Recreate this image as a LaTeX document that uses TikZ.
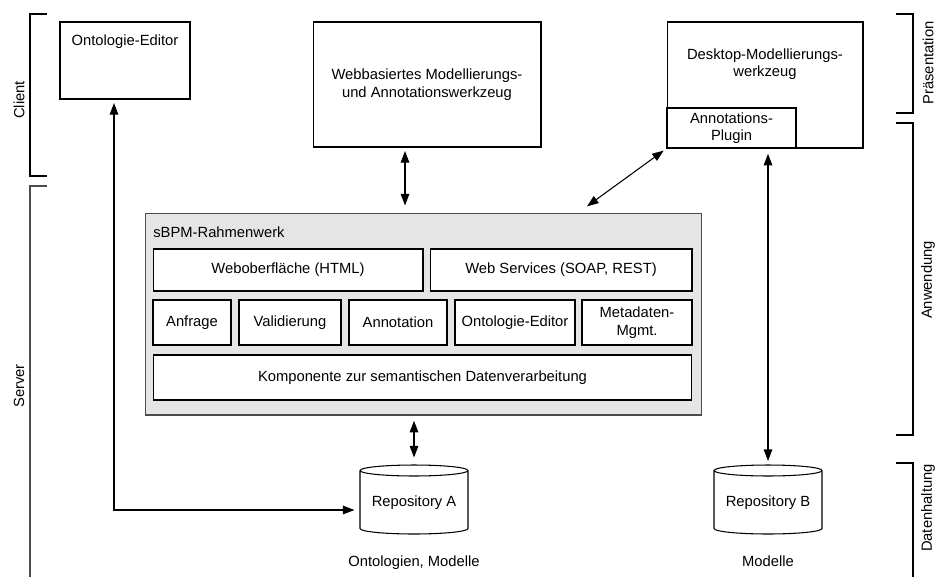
\documentclass[tikz,border=0pt]{standalone}
\usepackage{fontspec}
\setmainfont{Liberation Sans}
\usepackage{tikz}
\usetikzlibrary{arrows.meta,shapes.geometric}
\tikzset{
    box/.style={draw, fill=white, line width=0.6pt, align=center, inner sep=0pt},
    txt/.style={align=center, inner sep=0pt},
    repo/.style={draw, fill=white, line width=0.6pt, cylinder, shape border rotate=90, aspect=0.13, minimum width=2.16cm, minimum height=1.38cm, inner sep=0pt},
    dbl/.style={{Triangle[length=0.23cm,width=0.17cm]}-{Triangle[length=0.23cm,width=0.17cm]}, line width=0.6pt},
    brace/.style={line width=0.6pt},
    every node/.style={font=\fontsize{8.4}{10}\selectfont}
}

\begin{document}
\begin{tikzpicture}[x=0.02cm, y=-0.02cm]
\useasboundingbox (0,0) rectangle (935,576);
\draw[brace] (47,14) -- (30,14) -- (30,176) -- (47,176);
\draw[brace, black!70] (47,186) -- (30,186) -- (30,580);
\draw[brace] (896,14) -- (913,14) -- (913,113) -- (896,113);
\draw[brace] (896,123) -- (913,123) -- (913,435) -- (896,435);
\draw[brace] (896,463) -- (913,463) -- (913,580);
\node[txt, rotate=90] (client) at (19,100) {Client};
\node[txt, rotate=90] (server) at (19,386) {Server};
\node[txt, rotate=90] (praes) at (928,63) {Präsentation};
\node[txt, rotate=90] (anw) at (928,280) {Anwendung};
\node[txt, rotate=90] (daten) at (928,508) {Datenhaltung};

\node[box, minimum width=2.6cm, minimum height=1.54cm] (oeditor) at (125,60.5) {};
\node[txt] (oeditorlbl) at (125,42) {Ontologie-Editor};
\node[box, minimum width=4.56cm, minimum height=2.5cm] (web) at (427,84.5) {Webbasiertes Modellierungs-\\und Annotationswerkzeug};
\node[box, minimum width=3.92cm, minimum height=2.52cm] (desktop) at (765,85) {};
\node[txt] (desktoplbl) at (765,64) {Desktop-Modellierungs-\\werkzeug};
\node[box, minimum width=2.58cm, minimum height=0.8cm] (plugin) at (731.5,128) {Annotations-\\Plugin};

\node[draw=black!70, fill=black!10, line width=0.6pt, minimum width=11.14cm, minimum height=4.04cm, inner sep=0pt] (frame) at (423.5,314) {};
\node[txt, anchor=west] (framelbl) at (153,232) {sBPM-Rahmenwerk};
\node[box, minimum width=5.4cm, minimum height=0.84cm] (gui) at (288,270) {Weboberfläche (HTML)};
\node[box, minimum width=5.24cm, minimum height=0.84cm] (ws) at (561,270) {Web Services (SOAP, REST)};
\node[box, minimum width=1.56cm, minimum height=0.9cm] (anfrage) at (192,322.5) {Anfrage};
\node[box, minimum width=2.04cm, minimum height=0.9cm] (valid) at (290,322.5) {Validierung};
\node[box, minimum width=1.96cm, minimum height=0.9cm] (annot) at (398,322.5) {Annotation};
\node[box, minimum width=2.4cm, minimum height=0.9cm] (onto) at (515,322.5) {Ontologie-Editor};
\node[box, minimum width=2.2cm, minimum height=0.9cm] (meta) at (637,322.5) {Metadaten-\\Mgmt.};
\node[box, minimum width=10.78cm, minimum height=0.9cm] (komp) at (422.5,377.5) {Komponente zur semantischen Datenverarbeitung};

\node[repo] (repA) at (414,502.5) {Repository A};
\node[txt] (repAlbl) at (414,563) {Ontologien, Modelle};
\node[repo] (repB) at (768,502.5) {Repository B};
\node[txt] (repBlbl) at (768,561) {Modelle};

\draw[dbl, shorten <=2pt] ([xshift=-0.22cm]oeditor.south) |- ([xshift=-0.1cm, yshift=-0.15cm]repA.west);
\draw[dbl, shorten <=2pt, shorten >=4pt] ([xshift=-0.44cm]web.south) -- ([xshift=-0.44cm]web.south |- frame.north);
\draw[dbl, shorten <=6pt, shorten >=2pt] ([xshift=3.1cm]frame.north) -- (plugin.south west);
\draw[dbl, shorten <=3pt, shorten >=2pt] (repB.north |- plugin.south) -- (repB.north);
\draw[dbl, shorten <=3pt, shorten >=4pt] (repA.north |- frame.south) -- (repA.north);
\end{tikzpicture}
\end{document}
